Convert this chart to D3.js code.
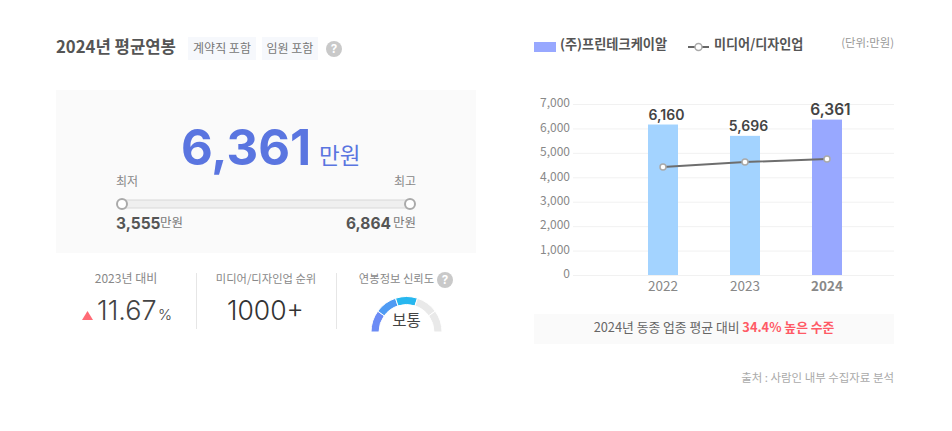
<!DOCTYPE html>
<html>
<head>
<meta charset="utf-8">
<script src="https://cdn.jsdelivr.net/npm/d3@7"></script>
<style>
  html, body { margin: 0; padding: 0; background: #fff; }
  svg { display: block; }
  text { font-family: "Noto Sans CJK KR", sans-serif; }
  .num { font-family: Inter, "Noto Sans CJK KR", sans-serif; }
</style>
</head>
<body>
<div id="chart"></div>
<script>
// bar + line values
var years = ['2022', '2023', '2024']
var companyPay = [6160, 5696, 6361]
var industryPay = [4420, 4625, 4750]
var yTicks = [0, 1000, 2000, 3000, 4000, 5000, 6000, 7000]

var legendCompany = '(주)프린테크케이알'
var legendIndustry = '미디어/디자인업'

var salaryMain = 6361
var salaryMin = 3555
var salaryMax = 6864

// gauge: 5 equal parts, 3 filled
var gaugeParts = [1, 1, 1, 1, 1]
var gaugeFilled = 3

var svg = d3.select('#chart').append('svg')
  .attr('width', 952)
  .attr('height', 431)

var fmt = d3.format(',')

function label(x, y, str, size, color, anchor, weight, cls) {
  return svg.append('text')
    .attr('x', x)
    .attr('y', y)
    .attr('class', cls || null)
    .style('font-size', size + 'px')
    .style('fill', color)
    .style('text-anchor', anchor || 'start')
    .style('font-weight', weight || 400)
    .text(str)
}

function helpIcon(x, y, r) {
  svg.append('circle').attr('cx', x).attr('cy', y).attr('r', r).style('fill', '#c9c9c9')
  label(x, y + r * 0.5, '?', r * 1.45, '#fff', 'middle', 700, 'num')
}

// ---- left: header
label(56, 53, '2024년 평균연봉', 16.7, '#555', 'start', 700)

svg.append('rect').attr('x', 188).attr('y', 37).attr('width', 68).attr('height', 23).style('fill', '#f6f8fc')
label(222, 53, '계약직 포함', 12, '#777', 'middle')
svg.append('rect').attr('x', 262).attr('y', 37).attr('width', 56).attr('height', 23).style('fill', '#f6f8fc')
label(290, 53, '임원 포함', 12, '#777', 'middle')
helpIcon(334, 49, 8)

// ---- left: salary box
svg.append('rect').attr('x', 56).attr('y', 90).attr('width', 420).attr('height', 163).style('fill', '#fafafa')

label(181, 165, fmt(salaryMain), 49, '#5a75e0', 'start', 700, 'num')
label(319, 164, '만원', 22.5, '#5a75e0')

label(116, 186, '최저', 12, '#888')
label(416, 186, '최고', 12, '#888', 'end')

var sliderX = d3.scaleLinear().domain([salaryMin, salaryMax]).range([122, 410])

svg.append('rect')
  .attr('x', sliderX(salaryMin))
  .attr('y', 200)
  .attr('width', sliderX(salaryMax) - sliderX(salaryMin))
  .attr('height', 8)
  .style('fill', '#efefef')
  .style('stroke', '#d8d8d8')

svg.selectAll('.knob').data([salaryMin, salaryMax]).enter().append('circle')
  .attr('class', 'knob')
  .attr('cx', d => sliderX(d))
  .attr('cy', 204)
  .attr('r', 5)
  .style('fill', '#fff')
  .style('stroke', '#aaa')
  .style('stroke-width', 2)

label(116, 229, fmt(salaryMin), 15.5, '#555', 'start', 700, 'num')
label(160, 227, '만원', 12.5, '#777')
label(391, 229, fmt(salaryMax), 15.5, '#555', 'end', 700, 'num')
label(416, 227, '만원', 12.5, '#777', 'end')

// ---- left: three stats
label(126, 283, '2023년 대비', 12, '#888', 'middle')
label(266, 283, '미디어/디자인업 순위', 11.3, '#888', 'middle')
label(396.5, 283, '연봉정보 신뢰도', 11.3, '#888', 'middle')
helpIcon(445, 280, 8)

svg.selectAll('.sep').data([196.5, 336.5]).enter().append('line')
  .attr('class', 'sep')
  .attr('x1', d => d).attr('x2', d => d)
  .attr('y1', 273).attr('y2', 329)
  .style('stroke', '#e6e6e6')

svg.append('path')
  .attr('d', d3.line()([[82, 320], [93, 320], [87.5, 311]]))
  .style('fill', '#ff6b76')

label(97, 320, '11.67', 27, '#444', 'start', 300, 'num')
label(158, 320, '%', 15, '#444', 'start', 300, 'num')
label(265.5, 320, '1000+', 26.5, '#333', 'middle', 300, 'num')

// ---- left: gauge
var gaugeColor = d3.scaleLinear()
  .domain([0, 1, 2])
  .range(['#6c8cf5', '#4f9bf3', '#27b7ef'])

var pie = d3.pie().sort(null).startAngle(-Math.PI / 2).endAngle(Math.PI / 2)
var arc = d3.arc().innerRadius(27.5).outerRadius(35.5)

svg.append('g')
  .attr('transform', 'translate(406.5,332)')
  .selectAll('path').data(pie(gaugeParts)).enter().append('path')
  .attr('d', arc)
  .style('fill', (d, i) => i < gaugeFilled ? gaugeColor(i) : '#e9e9e9')
  .style('stroke', '#fff')
  .style('stroke-width', 1)

label(406.5, 326, '보통', 15.5, '#444', 'middle')

// ---- right: legend
svg.append('rect').attr('x', 534).attr('y', 42).attr('width', 22).attr('height', 10).style('fill', '#98a8ff')
label(560, 49, legendCompany, 13.2, '#555', 'start', 700)

svg.append('line').attr('x1', 688).attr('x2', 709).attr('y1', 47).attr('y2', 47)
  .style('stroke', '#666').style('stroke-width', 2)
svg.append('circle').attr('cx', 698.5).attr('cy', 47).attr('r', 3.5)
  .style('fill', '#fff').style('stroke', '#aaa').style('stroke-width', 1.5)
label(714, 49, legendIndustry, 13.1, '#555', 'start', 700)

label(894, 47, '(단위:만원)', 11.4, '#999', 'end')

// ---- right: chart
var x = d3.scaleBand().domain(years).range([622, 868]).paddingInner(0).align(0.5)
var y = d3.scaleLinear().domain([0, 7000]).range([275, 104])

var gGrid = svg.append('g')
gGrid.selectAll('line').data(yTicks).enter().append('line')
  .attr('x1', 573).attr('x2', 894)
  .attr('y1', d => y(d) + 0.5).attr('y2', d => y(d) + 0.5)
  .style('stroke', '#f1f1f1')

var yAxis = d3.axisLeft(y)
  .tickValues(yTicks)
  .tickSize(0)
  .tickPadding(0)
  .tickFormat(fmt)

var gY = svg.append('g').attr('transform', 'translate(570,-1)').call(yAxis)
gY.select('.domain').remove()
gY.selectAll('text')
  .style('font-size', '12px')
  .style('fill', '#888')

var barW = 30
svg.append('g').selectAll('rect').data(years).enter().append('rect')
  .attr('x', d => x(d) + x.bandwidth() / 2 - barW / 2)
  .attr('y', (d, i) => y(companyPay[i]))
  .attr('width', barW)
  .attr('height', (d, i) => y(0) - y(companyPay[i]))
  .style('fill', (d, i) => i == years.length - 1 ? '#98a8ff' : '#a3d3ff')

svg.append('g').selectAll('text').data(years).enter().append('text')
  .attr('class', 'num')
  .attr('x', d => x(d) + x.bandwidth() / 2 + 3.5)
  .attr('y', (d, i) => y(companyPay[i]) - 5)
  .style('text-anchor', 'middle')
  .style('font-weight', 600)
  .style('fill', '#444')
  .style('font-size', (d, i) => i == years.length - 1 ? '15.5px' : '14px')
  .text((d, i) => fmt(companyPay[i]))

var xAxis = d3.axisBottom(x).tickSize(0).tickPadding(0)
var gX = svg.append('g').attr('transform', 'translate(0,281)').call(xAxis)
gX.select('.domain').remove()
gX.selectAll('text')
  .style('font-size', '13.5px')
  .style('fill', '#888')
  .style('font-weight', (d, i) => i == years.length - 1 ? 700 : 400)

var line = d3.line()
  .x(d => x(d.year) + x.bandwidth() / 2)
  .y(d => y(d.value))

var linePts = years.map((d, i) => ({ year: d, value: industryPay[i] }))

svg.append('path')
  .datum(linePts)
  .attr('d', line)
  .style('fill', 'none')
  .style('stroke', '#6e6e6e')
  .style('stroke-width', 2)

svg.append('g').selectAll('circle').data(linePts).enter().append('circle')
  .attr('cx', d => x(d.year) + x.bandwidth() / 2)
  .attr('cy', d => y(d.value))
  .attr('r', 3)
  .style('fill', '#fff')
  .style('stroke', '#aaa')
  .style('stroke-width', 1.5)

// ---- right: note
svg.append('rect').attr('x', 534).attr('y', 314).attr('width', 360).attr('height', 30).style('fill', '#fafafa')

var note = label(714, 332, '', 12.8, '#666', 'middle')
note.append('tspan').text('2024년 동종 업종 평균 대비 ')
note.append('tspan').style('fill', '#ff5a66').style('font-weight', 700).text('34.4% 높은 수준')

label(894, 382, '출처 : 사람인 내부 수집자료 분석', 11.45, '#aaa', 'end')
</script>
</body>
</html>
